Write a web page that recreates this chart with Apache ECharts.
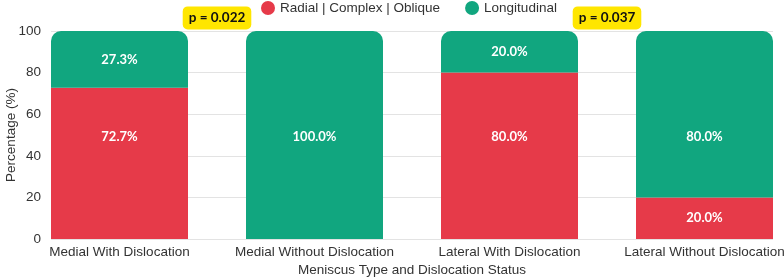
<!DOCTYPE html>
<html><head><meta charset="utf-8">
<script src="https://cdn.jsdelivr.net/npm/echarts@6/dist/echarts.min.js"></script>
<style>html,body{margin:0;padding:0;background:#fff}#c{width:784px;height:278px}</style>
</head><body><div id="c"></div>
<script>
const categories = ["Medial With Dislocation", "Medial Without Dislocation", "Lateral With Dislocation", "Lateral Without Dislocation"];
const radialValues = [72.7, 0, 80.0, 20.0];
const longitudinalValues = [27.3, 100.0, 20.0, 80.0];
const yTicks = [0, 20, 40, 60, 80, 100];
const pLabels = ["p = 0.022", "p = 0.037"];
const pPositions = [0.5, 2.5];
const pY = 106.3;
const labelAnchor = 49.3; // large segments have their label at this level

const RED = '#e63a49', GREEN = '#11a67f';
const FONT = 'Liberation Sans';
const chart = echarts.init(document.getElementById('c'), null, {renderer: 'canvas'});
const yMin = yTicks[0], yMax = yTicks[yTicks.length - 1];

// label positions derived from the segment extents
const segLabels = [];
categories.forEach((c, i) => {
  const segs = [[0, radialValues[i]], [radialValues[i], radialValues[i] + longitudinalValues[i]]];
  segs.forEach(([lo, hi]) => {
    if (hi - lo <= 0) return;
    const y = (lo <= labelAnchor && hi >= labelAnchor) ? labelAnchor : (lo + hi) / 2;
    segLabels.push([i, y, (hi - lo).toFixed(1) + '%']);
  });
});

chart.setOption({
  animation: false,
  legend: {
    top: -4, left: 256, itemGap: 25, icon: 'circle', itemWidth: 14, itemHeight: 14,
    textStyle: {fontFamily: FONT, fontSize: 13.5, color: '#333'},
    data: ['Radial | Complex | Oblique', 'Longitudinal']
  },
  grid: [
    {left: 51, right: 11, top: 31, bottom: 39, outerBoundsMode: 'none'},
    {left: 22, right: -18, top: 31, bottom: 39, outerBoundsMode: 'none'}
  ],
  xAxis: [
    {gridIndex: 0, type: 'value', min: -0.3513, max: 3.3513, show: false},
    {gridIndex: 1, type: 'category', data: categories,
     name: 'Meniscus Type and Dislocation Status', nameLocation: 'middle', nameGap: 24, nameMoveOverlap: false,
     nameTextStyle: {fontFamily: FONT, fontSize: 13.5, color: '#333'},
     axisLine: {show: false}, axisTick: {show: false}, splitLine: {show: false},
     axisLabel: {fontFamily: FONT, fontSize: 13.5, color: '#333', margin: 6, interval: 0}}
  ],
  yAxis: [
    {gridIndex: 0, type: 'value', min: yMin, max: yMax, interval: 20,
     name: 'Percentage (%)', nameLocation: 'middle', nameGap: 33, nameMoveOverlap: false,
     nameTextStyle: {fontFamily: FONT, fontSize: 13.5, color: '#333'},
     axisLine: {show: false}, axisTick: {show: false},
     splitLine: {lineStyle: {color: '#e3e3e3'}},
     axisLabel: {fontFamily: FONT, fontSize: 13.5, color: '#333', margin: 10}},
    {gridIndex: 1, type: 'value', min: yMin, max: yMax, interval: 20, show: false, splitLine: {show: false}}
  ],
  series: [
    {name: 'Radial | Complex | Oblique', type: 'bar', stack: 's', barWidth: 137,
     xAxisIndex: 1, yAxisIndex: 1,
     itemStyle: {color: RED}, data: radialValues},
    {name: 'Longitudinal', type: 'bar', stack: 's', barWidth: 137,
     xAxisIndex: 1, yAxisIndex: 1,
     itemStyle: {color: GREEN, borderRadius: [10, 10, 0, 0]}, data: longitudinalValues},
    {name: 'labels', type: 'scatter', symbolSize: 0, silent: true, z: 5,
     xAxisIndex: 1, yAxisIndex: 1, itemStyle: {opacity: 1},
     label: {show: true, position: 'inside', formatter: p => p.value[2], opacity: 1,
       color: '#fff', fontFamily: 'Lato', fontWeight: 'bold', fontSize: 13},
     data: segLabels},
    {name: 'p', type: 'scatter', clip: false, symbolSize: 0, silent: true,
     xAxisIndex: 0, yAxisIndex: 0, itemStyle: {opacity: 1},
     label: {show: true, position: 'inside', formatter: p => pLabels[p.dataIndex],
       fontFamily: 'Lato', fontWeight: 'bold', fontSize: 13.5, color: '#111',
       backgroundColor: '#ffe600', borderRadius: 5, padding: [5, 6, 4, 6]},
     data: pPositions.map(x => [x, pY])}
  ]
});
</script></body></html>
